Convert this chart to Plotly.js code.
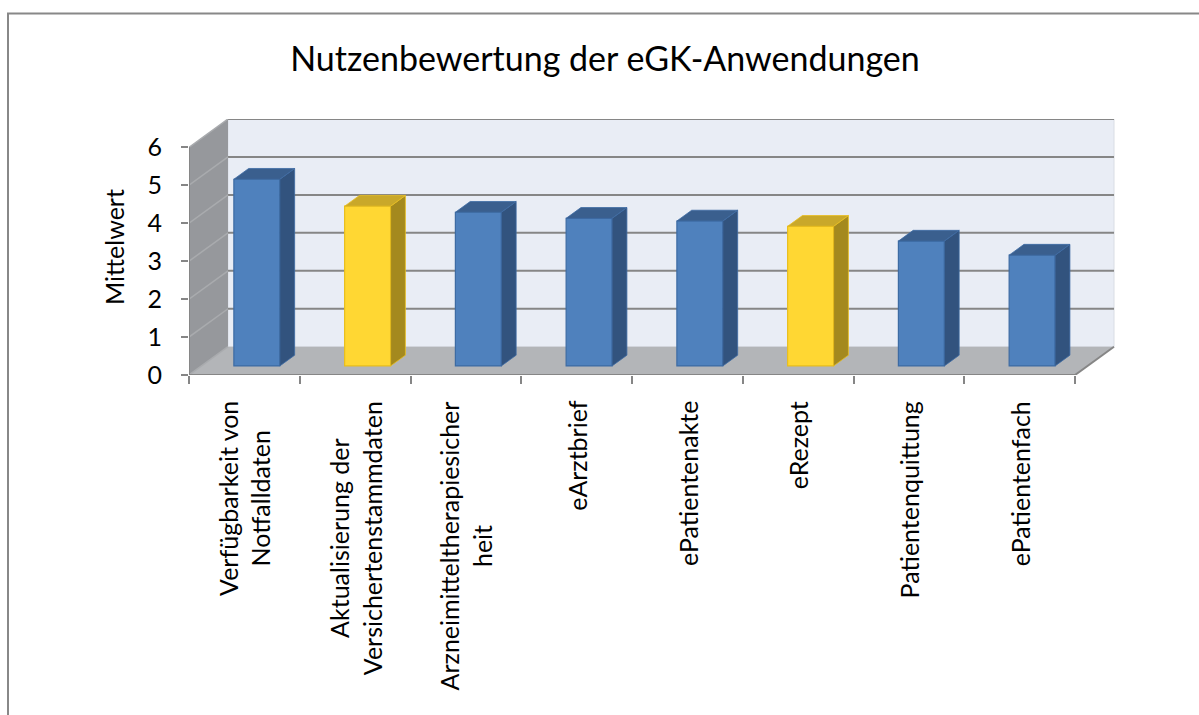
<!DOCTYPE html>
<html>
<head>
<meta charset="utf-8">
<script src="https://cdn.plot.ly/plotly-3.0.1.min.js"></script>
<style>html,body{margin:0;padding:0;background:#fff;} #chart{width:1199px;height:715px;}</style>
</head>
<body>
<div id="chart"></div>
<script>
// ---- data ----
const categories = [
  "Verfügbarkeit von<br>Notfalldaten",
  "Aktualisierung der<br>Versichertenstammdaten",
  "Arzneimitteltherapiesicher<br>heit",
  "eArztbrief",
  "ePatientenakte",
  "eRezept",
  "Patientenquittung",
  "ePatientenfach"
];
const values = [4.92, 4.21, 4.05, 3.89, 3.82, 3.68, 3.29, 2.92];
const highlighted = [false, true, false, false, false, true, false, false];
const yTicks = [0, 1, 2, 3, 4, 5, 6];
const titleText = "Nutzenbewertung der eGK-Anwendungen";
const yTitle = "Mittelwert";

// ---- pseudo 3D geometry (in axis units) ----
const n = categories.length;
const DX = 0.352, DY = 0.746;      // depth offset of back wall
const f0 = 0.32, fd = 0.38;        // bar depth start / thickness (fraction of depth)
const W = 0.415;                   // bar width
const xL = -0.5, xR = n - 0.5, yMax = 6;
const idx = categories.map((c, i) => i);

const pal = {
  blue:   {front: "#4F81BD", line: "#3D6BA3", side: "#32537E", top: "#3A5F8E"},
  yellow: {front: "#FFD733", line: "#E8BE1E", side: "#A4891E", top: "#C9A82A"}
};

function faces(sel, which) {
  const xs = [], ys = [];
  idx.forEach(i => {
    if (!sel(i)) return;
    const v = values[i];
    const b = f0 * DY;
    const xc = i + f0 * DX;
    const x0 = xc - W / 2, x1 = xc + W / 2;
    const ddx = fd * DX, ddy = fd * DY;
    if (which === "side") {
      xs.push(x1, x1, x1 + ddx, x1 + ddx, x1, null);
      ys.push(b, b + v, b + v + ddy, b + ddy, b, null);
    } else {
      xs.push(x0, x1, x1 + ddx, x0 + ddx, x0, null);
      ys.push(b + v, b + v, b + v + ddy, b + v + ddy, b + v, null);
    }
  });
  return {xs, ys};
}

const traces = [];
[["blue", i => !highlighted[i]], ["yellow", i => highlighted[i]]].forEach(([key, sel]) => {
  const c = pal[key];
  const ids = idx.filter(sel);
  traces.push({
    type: "bar", x: ids, y: ids.map(i => values[i]), base: f0 * DY,
    width: W, offset: -W / 2 + f0 * DX,
    marker: {color: c.front, line: {color: c.line, width: 1.2}},
    hoverinfo: "skip", showlegend: false
  });
  ["side", "top"].forEach(w => {
    const p = faces(sel, w);
    traces.push({
      type: "scatter", mode: "lines", x: p.xs, y: p.ys, fill: "toself",
      fillcolor: c[w], line: {color: c.line, width: 0.8},
      hoverinfo: "skip", showlegend: false
    });
  });
});

// ---- walls, floor, gridlines ----
const shapes = [];
const grey = "#868686";
shapes.push({type: "rect", xref: "x", yref: "y", layer: "below",
  x0: xL + DX, x1: xR + DX, y0: DY, y1: yMax + DY,
  fillcolor: "#E9EDF5", line: {color: "#D9DDE4", width: 1}});
shapes.push({type: "path", xref: "x", yref: "y", layer: "below",
  path: `M${xL},0 L${xL},${yMax} L${xL + DX},${yMax + DY} L${xL + DX},${DY} Z`,
  fillcolor: "#96989C", line: {width: 0}});
shapes.push({type: "path", xref: "x", yref: "y", layer: "below",
  path: `M${xL},0 L${xR},0 L${xR + DX},${DY} L${xL + DX},${DY} Z`,
  fillcolor: "#B3B5B8", line: {width: 0}});
yTicks.forEach(k => {
  if (k > 0) shapes.push({type: "line", xref: "x", yref: "y", layer: "below",
    x0: xL + DX, x1: xR + DX, y0: k + DY, y1: k + DY, line: {color: grey, width: 2}});
  shapes.push({type: "line", xref: "x", yref: "y", layer: "below",
    x0: xL, x1: xL + DX, y0: k, y1: k + DY, line: {color: "#A9ABAE", width: 1.5}});
});
shapes.push({type: "line", xref: "x", yref: "y", layer: "below",
  x0: xR, x1: xR + DX, y0: 0, y1: DY, line: {color: grey, width: 2}});
shapes.push({type: "line", xref: "x", yref: "y", layer: "below",
  x0: xL, x1: xR, y0: 0, y1: 0, line: {color: grey, width: 2}});
shapes.push({type: "line", xref: "x", yref: "y", layer: "below",
  x0: xL, x1: xL, y0: 0, y1: yMax, line: {color: grey, width: 2}});

// chart border (outer frame)
const mL = 189, mT = 119, mR = 82, mB = 340;
const pw = 1199 - mL - mR, ph = 715 - mT - mB;
shapes.push({type: "rect", xref: "paper", yref: "paper",
  x0: (8 - mL) / pw, x1: (1240 - mL) / pw, y0: (715 - mB - 760) / ph, y1: (715 - mB - 13.5) / ph,
  line: {color: "#888888", width: 2}, fillcolor: "rgba(0,0,0,0)"});

// ---- category labels ----
const font = "Lato, 'Open Sans', sans-serif";
const fs = 25;
const annotations = categories.map((c, i) => ({
  xref: "x", yref: "paper", x: i, y: -(399 - 375) / ph,
  text: c, textangle: -90, showarrow: false, align: "center",
  xanchor: "center", yanchor: "top",
  font: {family: font, size: fs, color: "#000"}
}));

const layout = {
  width: 1199, height: 715,
  margin: {l: mL, r: mR, t: mT, b: mB},
  paper_bgcolor: "#fff", plot_bgcolor: "rgba(0,0,0,0)",
  font: {family: font, color: "#000"},
  title: {text: titleText, font: {family: font, size: 34, color: "#000"},
    x: 605 / 1199, xanchor: "center", y: 1 - 59 / 715, yanchor: "middle", xref: "container", yref: "container"},
  xaxis: {range: [xL, xR + 0.379], tickmode: "array",
    tickvals: idx.map(i => i - 0.5).concat([xR]), ticktext: idx.map(() => "").concat([""]),
    ticks: "outside", ticklen: 8, tickwidth: 2, tickcolor: grey,
    showticklabels: false, showgrid: false, zeroline: false, showline: false, fixedrange: true},
  yaxis: {range: [0, yMax + DY], tickmode: "array", tickvals: yTicks,
    ticktext: yTicks.map(String), ticks: "outside", ticklen: 7, tickwidth: 2, tickcolor: grey,
    tickfont: {family: font, size: fs, color: "#000"}, ticklabelstandoff: 14,
    showgrid: false, zeroline: false, showline: false, fixedrange: true,
    title: {text: yTitle, font: {family: font, size: fs, color: "#000"}, standoff: 15}},
  shapes: shapes,
  annotations: annotations,
  bargap: 0
};

Plotly.newPlot("chart", traces, layout, {displayModeBar: false, staticPlot: true});
</script>
</body>
</html>
